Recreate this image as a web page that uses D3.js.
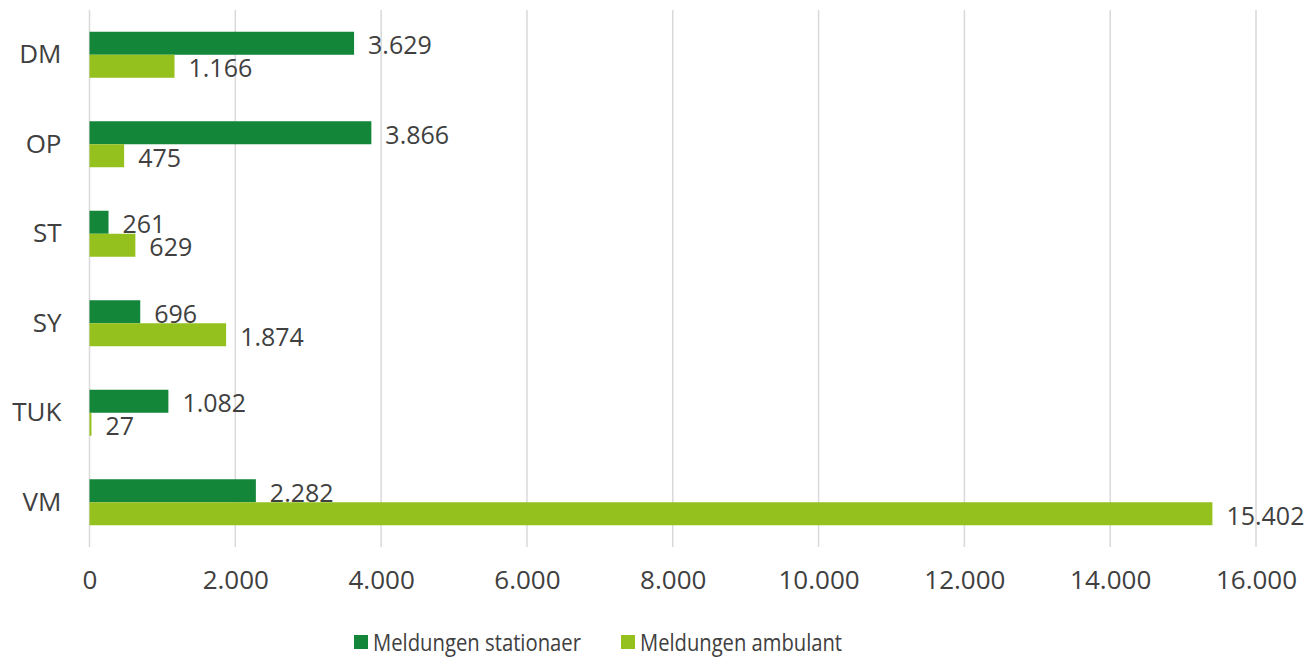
<!DOCTYPE html>
<html>
<head>
<meta charset="utf-8">
<script src="https://cdn.jsdelivr.net/npm/d3@7"></script>
<style>
  body { margin: 0; background: #fff; }
  text { font-family: "Open Sans", sans-serif; fill: #404040; }
</style>
</head>
<body>
<div id="chart"></div>
<script>
// data
var categories = ["DM", "OP", "ST", "SY", "TUK", "VM"];
var seriesNames = ["Meldungen stationaer", "Meldungen ambulant"];
var stationaer = [3629, 3866, 261, 696, 1082, 2282];
var ambulant = [1166, 475, 629, 1874, 27, 15402];
var xTicks = [0, 2000, 4000, 6000, 8000, 10000, 12000, 14000, 16000];
var colors = ["#13863A", "#95C11F"];

var svgWidth = 1314, svgHeight = 658;
var margin = { top: 10, left: 89.5, right: 58, bottom: 111 };
var width = svgWidth - margin.left - margin.right;
var height = svgHeight - margin.top - margin.bottom;

var fmt = function(v) { return d3.format(",")(v).replace(/,/g, "."); };

var svg = d3.select("#chart")
    .append("svg")
    .attr("width", svgWidth)
    .attr("height", svgHeight);

var chartGroup = svg.append("g")
    .attr("transform", `translate(${margin.left}, ${margin.top})`);

// scales
var xScale = d3.scaleLinear()
    .domain([0, 16000])
    .range([0, width]);

var yScale = d3.scaleBand()
    .domain(categories)
    .range([0, height])
    .paddingInner(0.486)
    .paddingOuter(0.243);

var ySub = d3.scaleBand()
    .domain([0, 1])
    .range([0, yScale.bandwidth()]);

// gridlines
chartGroup.append("g").selectAll("line")
    .data(xTicks)
    .enter()
    .append("line")
    .attr("x1", d => xScale(d))
    .attr("x2", d => xScale(d))
    .attr("y1", 0)
    .attr("y2", height)
    .attr("stroke", "#d9d9d9")
    .attr("stroke-width", 1.5);

// x axis
var xAxis = d3.axisBottom(xScale)
    .tickValues(xTicks)
    .tickFormat(fmt)
    .tickSize(0)
    .tickPadding(24);

var xg = chartGroup.append("g")
    .attr("transform", `translate(0, ${height})`)
    .call(xAxis);
xg.select(".domain").remove();
xg.selectAll("text")
    .attr("font-size", "26px")
    .attr("font-family", "Open Sans, sans-serif")
    .attr("fill", "#404040");

// y axis
var yAxis = d3.axisLeft(yScale).tickSize(0).tickPadding(28);
var yg = chartGroup.append("g").call(yAxis);
yg.select(".domain").remove();
yg.selectAll("text")
    .attr("font-size", "26px")
    .attr("font-family", "Open Sans, sans-serif")
    .attr("fill", "#404040");

// bars
var series = [stationaer, ambulant];
series.forEach(function(values, si) {
    var rows = categories.map((c, i) => ({ cat: c, value: values[i] }));

    chartGroup.append("g").selectAll("rect")
        .data(rows)
        .enter()
        .append("rect")
        .attr("x", xScale(0))
        .attr("y", d => yScale(d.cat) + ySub(si))
        .attr("width", d => xScale(d.value) - xScale(0))
        .attr("height", ySub.bandwidth())
        .attr("fill", colors[si]);

    chartGroup.append("g").selectAll("text")
        .data(rows)
        .enter()
        .append("text")
        .text(d => fmt(d.value))
        .attr("x", d => xScale(d.value) + 14)
        .attr("y", d => yScale(d.cat) + ySub(si) + ySub.bandwidth() / 2 + 1)
        .attr("dominant-baseline", "central")
        .attr("font-size", "25px");
});

// legend
var legendX = [354, 621];
var legendW = [208, 202];
var legend = svg.append("g").selectAll("g")
    .data(seriesNames)
    .enter()
    .append("g")
    .attr("transform", (d, i) => `translate(${legendX[i]}, 635)`);

legend.append("rect")
    .attr("width", 14)
    .attr("height", 14)
    .attr("fill", (d, i) => colors[i]);

legend.append("text")
    .attr("x", 19)
    .attr("y", 16)
    .attr("font-size", "24px")
    .attr("textLength", (d, i) => legendW[i])
    .attr("lengthAdjust", "spacingAndGlyphs")
    .text(d => d);
</script>
</body>
</html>
